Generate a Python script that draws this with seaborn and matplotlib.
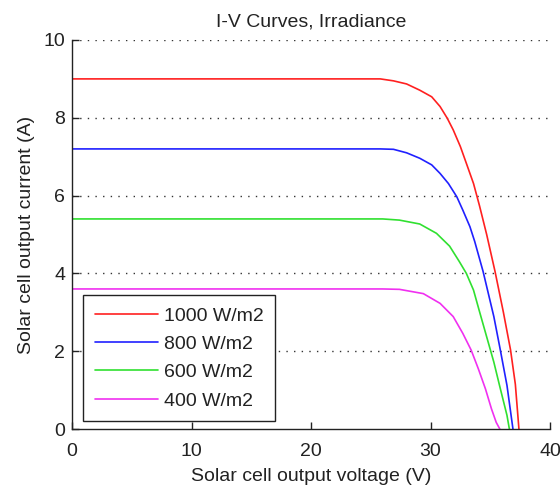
import matplotlib
matplotlib.use("Agg")
import matplotlib.pyplot as plt
import seaborn as sns
import pandas as pd

# Data
labels = ["1000 W/m2", "800 W/m2", "600 W/m2", "400 W/m2"]
colors = ["#ff2020", "#2020ff", "#30e030", "#f030f0"]

v_1000 = [0, 25.8, 26.9, 28.0, 29.1, 30.1, 30.8, 31.4, 31.9, 32.5, 33.0, 33.6, 34.1, 34.7, 35.4, 36.1, 36.7, 37.1, 37.4]
i_1000 = [9.0, 9.0, 8.95, 8.87, 8.71, 8.54, 8.29, 7.99, 7.69, 7.26, 6.83, 6.31, 5.74, 5.0, 4.05, 3.0, 2.03, 1.15, 0.0]

v_800 = [0, 25.8, 26.9, 28.0, 29.1, 30.1, 30.8, 31.5, 32.2, 32.7, 33.3, 33.7, 34.4, 35.3, 35.8, 36.4, 36.9]
i_800 = [7.2, 7.2, 7.19, 7.10, 6.96, 6.79, 6.57, 6.31, 5.97, 5.63, 5.20, 4.82, 4.05, 2.89, 2.10, 1.12, 0.0]

v_600 = [0, 26.0, 27.4, 29.1, 30.5, 31.6, 32.4, 33.0, 33.6, 34.1, 34.7, 35.3, 35.8, 36.4, 36.6]
i_600 = [5.4, 5.4, 5.37, 5.27, 5.03, 4.70, 4.31, 4.00, 3.57, 3.02, 2.37, 1.72, 1.09, 0.35, 0.0]

v_400 = [0, 26.0, 27.4, 29.4, 30.8, 31.9, 32.7, 33.4, 34.0, 34.6, 35.1, 35.5, 35.8]
i_400 = [3.6, 3.6, 3.59, 3.48, 3.23, 2.89, 2.46, 2.03, 1.55, 1.03, 0.52, 0.17, 0.0]

x_ticks = [0, 10, 20, 30, 40]
y_ticks = [0, 2, 4, 6, 8, 10]

frames = []
for lab, v, i in zip(labels, [v_1000, v_800, v_600, v_400], [i_1000, i_800, i_600, i_400]):
    frames.append(pd.DataFrame({"V": v, "I": i, "Irradiance": lab}))
df = pd.concat(frames, ignore_index=True)

sns.set_style("white")
plt.rcParams["font.family"] = ["Liberation Sans", "DejaVu Sans"]

fig = plt.figure(figsize=(5.6, 4.91), dpi=100)
ax = fig.add_axes([72 / 560, 1 - 429 / 491, 478 / 560, 389 / 491])

sns.lineplot(data=df, x="V", y="I", hue="Irradiance", hue_order=labels,
             palette=colors, sort=False, estimator=None, units="Irradiance",
             linewidth=1.2, ax=ax, legend=True)

ax.set_xlim(0, 40)
ax.set_ylim(0, 10)
ax.set_xticks(x_ticks)
ax.set_yticks(y_ticks)
ax.tick_params(direction="in", length=5, width=1, colors="#222222", labelsize=14,
               top=False, right=False, left=True, bottom=True)
ax.tick_params(axis="x", pad=10)
ax.tick_params(axis="y", pad=5)
for lbl in ax.get_xticklabels() + ax.get_yticklabels():
    lbl.set_color("#222222")

for y in y_ticks[1:]:
    ax.axhline(y, color="#333333", linestyle=(0, (1, 4.5)), linewidth=1.0, zorder=0)

for s in ["top", "right"]:
    ax.spines[s].set_visible(False)
for s in ["left", "bottom"]:
    ax.spines[s].set_color("#222222")
    ax.spines[s].set_linewidth(1.0)

ax.set_title("I-V Curves, Irradiance", fontsize=14, color="#222222", pad=10)
ax.set_xlabel("Solar cell output voltage (V)", fontsize=14, color="#222222", labelpad=6)
ax.set_ylabel("Solar cell output current (A)", fontsize=14, color="#222222", labelpad=6)

leg = ax.legend(loc="lower left", bbox_to_anchor=(0.023, 0.02), borderaxespad=0,
                fontsize=14, frameon=True, fancybox=False, framealpha=1,
                edgecolor="#222222", handlelength=3.25, handletextpad=0.3,
                labelspacing=0.55, borderpad=0.6)
leg.get_frame().set_linewidth(1.0)
for t in leg.get_texts():
    t.set_color("#222222")

fig.savefig("out.png", dpi=100)
